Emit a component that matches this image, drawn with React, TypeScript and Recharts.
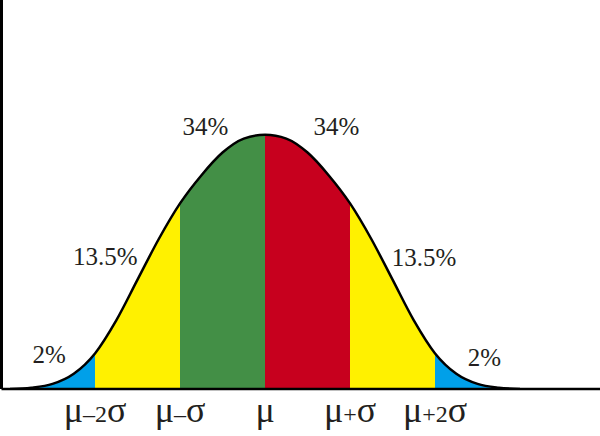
import React from 'react'
import { AreaChart, Area, XAxis, YAxis, ReferenceDot } from 'recharts'

// curve height (relative to the peak), every quarter sigma
const zs = [-3, -2.75, -2.5, -2.25, -2, -1.75, -1.5, -1.25, -1, -0.75, -0.5, -0.25, 0, 0.25, 0.5, 0.75, 1, 1.25, 1.5, 1.75, 2, 2.25, 2.5, 2.75, 3]
const heights = [0, 0.005, 0.02, 0.06, 0.14, 0.27, 0.43, 0.59, 0.73, 0.84, 0.93, 0.985, 1, 0.985, 0.93, 0.84, 0.73, 0.59, 0.43, 0.27, 0.14, 0.06, 0.02, 0.005, 0]

const bandEdges = [-2, -1, 0, 1, 2]
const bandColors = ['#00A0E9', '#FFF100', '#438F46', '#C7001E', '#FFF100', '#00A0E9']
const bandLabels = ['2%', '13.5%', '34%', '34%', '13.5%', '2%']
const tickLabels = ['μ–2σ', 'μ–σ', 'μ', 'μ+σ', 'μ+2σ']

const data = zs.map((z, i) => ({ z, h: heights[i] }))

// where each percent label sits (sigma units, relative height)
const labelSpots = [
    { z: -2.54, h: 0.134 },
    { z: -1.88, h: 0.52 },
    { z: -0.7, h: 1.03 },
    { z: 0.84, h: 1.03 },
    { z: 1.87, h: 0.515 },
    { z: 2.58, h: 0.122 },
]

const FONT = 'Liberation Serif'

const SigmaTick = (props: any) => {
    const { x, y, payload } = props
    const label = tickLabels[bandEdges.indexOf(payload.value)] || ''
    const parts = label.split(/([μσ])/).filter(Boolean)
    return (
        <text x={x} y={y + 25} textAnchor="middle" style={{ fontFamily: FONT }} fill="#231F20">
            {parts.map((p: string, i: number) => (
                <tspan key={i} style={{ fontSize: p === 'μ' || p === 'σ' ? 36 : 24 }}>{p}</tspan>
            ))}
        </text>
    )
}

const PctLabel = (props: any) => {
    const { viewBox, value } = props
    const cx = viewBox.x + viewBox.width / 2
    const cy = viewBox.y + viewBox.height / 2
    return (
        <text x={cx} y={cy + 8} textAnchor="middle" fill="#231F20" style={{ fontFamily: FONT, fontSize: 25 }}>
            {value}
        </text>
    )
}

const zMin = zs[0]
const zMax = zs[zs.length - 1]
const stops: { offset: number; color: string }[] = []
bandColors.forEach((c, i) => {
    const from = i === 0 ? zMin : bandEdges[i - 1]
    const to = i === bandEdges.length ? zMax : bandEdges[i]
    stops.push({ offset: (from - zMin) / (zMax - zMin), color: c })
    stops.push({ offset: (to - zMin) / (zMax - zMin), color: c })
})

const App = () => {
    return (
        <div>
            <style>{'body{margin:0}'}</style>
            <AreaChart width={600} height={436} data={data} margin={{ top: 0, right: 0, bottom: 0, left: 0 }}>
                <defs>
                    <linearGradient id="bands" x1="0" y1="0" x2="1" y2="0">
                        {stops.map((s, i) => (
                            <stop key={i} offset={s.offset} stopColor={s.color} />
                        ))}
                    </linearGradient>
                </defs>
                <XAxis
                    dataKey="z"
                    type="number"
                    domain={[-3.1, 3.94]}
                    allowDataOverflow
                    ticks={bandEdges}
                    interval={0}
                    tick={<SigmaTick />}
                    tickLine={false}
                    axisLine={{ stroke: '#000', strokeWidth: 2.5 }}
                    height={47}
                />
                <YAxis
                    type="number"
                    domain={[0, 1.53]}
                    allowDataOverflow
                    width={1.5}
                    tick={false}
                    tickLine={false}
                    axisLine={{ stroke: '#000', strokeWidth: 3 }}
                />
                <Area
                    dataKey="h"
                    type="monotone"
                    stroke="#000"
                    strokeWidth={2.5}
                    fill="url(#bands)"
                    fillOpacity={1}
                    baseValue={0}
                    isAnimationActive={false}
                />
                {labelSpots.map((s, i) => (
                    <ReferenceDot
                        key={i}
                        x={s.z}
                        y={s.h}
                        r={0}
                        stroke="none"
                        fill="none"
                        label={<PctLabel value={bandLabels[i]} />}
                    />
                ))}
            </AreaChart>
        </div>
    )
}

export default App
